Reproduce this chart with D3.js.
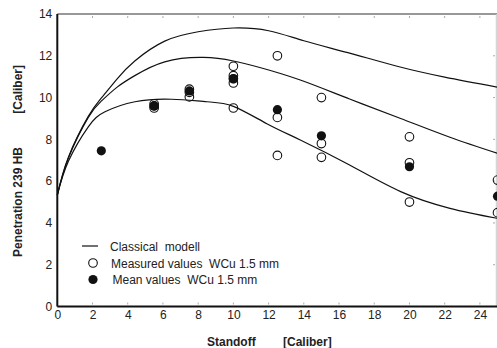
<!DOCTYPE html>
<html>
<head>
<meta charset="utf-8">
<script src="https://cdn.jsdelivr.net/npm/d3@7"></script>
<style>
  body { margin: 0; background: #fff; }
  svg { display: block; font-family: "Liberation Sans", Arial, sans-serif; }
</style>
</head>
<body>
<div id="chart"></div>
<script>
// classical model curves
const upperX = [0, 0.63, 1.76, 2.52, 3.4, 4.4, 6.1, 8, 10, 12, 14, 16.5, 19.3, 22, 25];
const upperY = [5.33, 7.15, 9.1, 10.0, 10.9, 11.75, 12.7, 13.15, 13.33, 13.2, 12.72, 12.15, 11.5, 10.98, 10.5];
const middleX = [0, 0.63, 1.76, 2.52, 3.4, 4.4, 6.1, 8.3, 10, 11.5, 13.8, 16.6, 19.5, 22.3, 25];
const middleY = [5.33, 7.1, 9.05, 9.85, 10.5, 11.05, 11.71, 11.92, 11.75, 11.44, 10.84, 9.93, 9.0, 8.1, 7.33];
const lowerX = [0, 0.63, 1.76, 2.71, 4.41, 6.5, 8.5, 10, 11.9, 13.8, 16.6, 19.5, 22.3, 25];
const lowerY = [5.33, 6.95, 8.6, 9.32, 9.8, 9.92, 9.8, 9.58, 8.75, 7.97, 6.77, 5.5, 4.7, 4.22];

// measured values WCu 1.5 mm
const measuredX = [5.5, 5.5, 5.5, 7.5, 7.5, 7.5, 10, 10, 10, 10, 10, 12.5, 12.5, 12.5, 15, 15, 15, 20, 20, 20, 25, 25];
const measuredY = [9.5, 9.6, 9.7, 10.03, 10.25, 10.4, 11.5, 11.05, 10.9, 10.7, 9.5, 12.0, 9.05, 7.23, 10.0, 7.8, 7.14, 8.12, 6.88, 5.0, 6.05, 4.49];

// mean values WCu 1.5 mm
const meanX = [2.5, 5.5, 7.5, 10, 12.5, 15, 20, 25];
const meanY = [7.45, 9.6, 10.32, 10.9, 9.42, 8.17, 6.69, 5.28];

const xTicks = [0, 2, 4, 6, 8, 10, 12, 14, 16, 18, 20, 22, 24];
const yTicks = [0, 2, 4, 6, 8, 10, 12, 14];

const W = 497, H = 348;
const mLeft = 57.3, mRight = 497.5, mTop = 14, mBottom = 306.5;

const svg = d3.select("#chart").append("svg")
    .attr("width", W)
    .attr("height", H);

const x = d3.scaleLinear().domain([0, 25]).range([mLeft, mRight]);
const y = d3.scaleLinear().domain([0, 14]).range([mBottom, mTop]);

// frame: top and right
svg.append("line")
    .attr("x1", mLeft).attr("x2", W).attr("y1", mTop).attr("y2", mTop)
    .attr("stroke", "#333").attr("stroke-width", 1.2);
svg.append("line")
    .attr("x1", 496.3).attr("x2", 496.3).attr("y1", mTop).attr("y2", mBottom)
    .attr("stroke", "#ccc").attr("stroke-width", 1);

// small inner ticks
const tickCol = "#aaa";
svg.selectAll(".tt").data(xTicks.filter(d => d > 0)).enter().append("line")
    .attr("x1", d => x(d)).attr("x2", d => x(d))
    .attr("y1", mTop + 2).attr("y2", mTop + 4)
    .attr("stroke", tickCol);
svg.selectAll(".bt").data(xTicks.filter(d => d > 0)).enter().append("line")
    .attr("x1", d => x(d)).attr("x2", d => x(d))
    .attr("y1", mBottom - 4).attr("y2", mBottom - 2)
    .attr("stroke", tickCol);
svg.selectAll(".rt").data(yTicks.filter(d => d > 0 && d < 14)).enter().append("line")
    .attr("x1", 493).attr("x2", 495)
    .attr("y1", d => y(d)).attr("y2", d => y(d))
    .attr("stroke", tickCol);

// axes
const xAxis = svg.append("g")
    .attr("transform", `translate(0,${mBottom})`)
    .call(d3.axisBottom(x).tickValues(xTicks).tickSize(0).tickPadding(4));
const yAxis = svg.append("g")
    .attr("transform", `translate(${mLeft},0)`)
    .call(d3.axisLeft(y).tickValues(yTicks).tickSize(0).tickPadding(5));

[xAxis, yAxis].forEach(g => {
    g.select(".domain").attr("stroke", "#111").attr("stroke-width", 2);
    g.selectAll("text").attr("font-size", 12).attr("fill", "#222")
        .attr("font-family", "'Liberation Sans', Arial, sans-serif");
});
xAxis.select(".domain").attr("d", `M${mLeft},0H${W}`);
yAxis.select(".domain").attr("d", `M0,${mTop}V${mBottom}`);

// curves
const line = d3.line()
    .x(d => x(d[0]))
    .y(d => y(d[1]))
    .curve(d3.curveNatural);

[[upperX, upperY], [middleX, middleY], [lowerX, lowerY]].forEach(([xs, ys]) => {
    svg.append("path")
        .datum(xs.map((v, i) => [v, ys[i]]))
        .attr("d", line)
        .attr("fill", "none")
        .attr("stroke", "#111")
        .attr("stroke-width", 1.2);
});

// measured (open) circles
svg.selectAll(".meas").data(measuredX.map((v, i) => [v, measuredY[i]])).enter()
    .append("circle")
    .attr("cx", d => x(d[0]))
    .attr("cy", d => y(d[1]))
    .attr("r", 4.3)
    .attr("fill", "none")
    .attr("stroke", "#111")
    .attr("stroke-width", 1.1);

// mean (filled) circles
svg.selectAll(".mean").data(meanX.map((v, i) => [v, meanY[i]])).enter()
    .append("circle")
    .attr("cx", d => x(d[0]))
    .attr("cy", d => y(d[1]))
    .attr("r", 4.6)
    .attr("fill", "#111");

// legend
const lg = svg.append("g").attr("font-size", 12).attr("fill", "#222");
lg.append("line").attr("x1", 82).attr("x2", 98).attr("y1", 246).attr("y2", 246)
    .attr("stroke", "#111").attr("stroke-width", 1.2);
lg.append("text").attr("x", 110).attr("y", 250.5).text("Classical  modell")
    .style("white-space", "pre");
lg.append("circle").attr("cx", 93).attr("cy", 263).attr("r", 4.3)
    .attr("fill", "none").attr("stroke", "#111").attr("stroke-width", 1.1);
lg.append("text").attr("x", 111).attr("y", 267.5).text("Measured values  WCu 1.5 mm")
    .style("white-space", "pre");
lg.append("circle").attr("cx", 93).attr("cy", 279.5).attr("r", 4.6).attr("fill", "#111");
lg.append("text").attr("x", 112.5).attr("y", 284).text("Mean values  WCu 1.5 mm")
    .style("white-space", "pre");

// axis titles
svg.append("text").attr("x", 207).attr("y", 345.5)
    .attr("font-size", 12).attr("font-weight", "bold").attr("fill", "#222")
    .text("Standoff");
svg.append("text").attr("x", 283).attr("y", 345.5)
    .attr("font-size", 12).attr("font-weight", "bold").attr("fill", "#222")
    .text("[Caliber]");

const yt = svg.append("g").attr("transform", "translate(22,0) rotate(-90)")
    .attr("font-size", 12).attr("font-weight", "bold").attr("fill", "#222");
yt.append("text").attr("x", -257).attr("y", 0).text("Penetration 239 HB");
yt.append("text").attr("x", -65).attr("y", 0).attr("text-anchor", "end").text("[Caliber]");
</script>
</body>
</html>
